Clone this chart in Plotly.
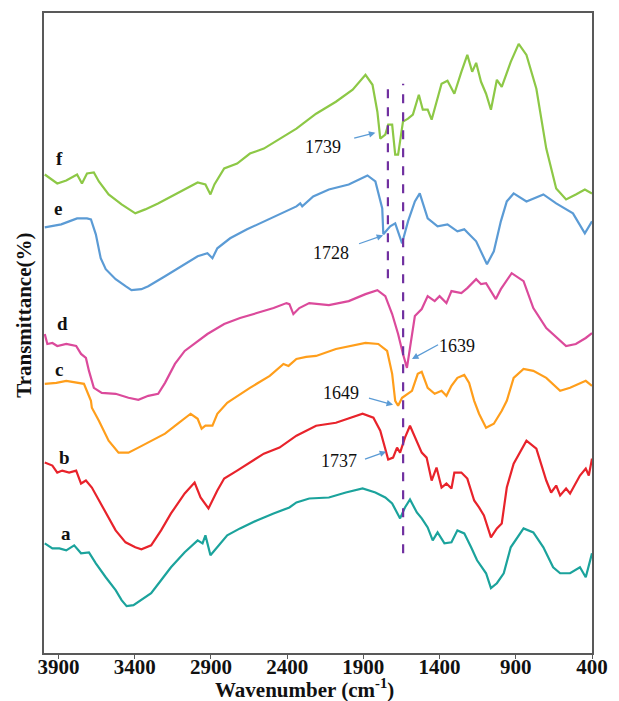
import plotly.graph_objects as go

# FTIR spectra of samples a–f, vertically offset (transmittance, arbitrary units)
wn_f = [3990, 3908, 3849, 3778, 3746, 3713, 3668, 3635, 3571, 3486, 3396, 3331, 3247, 3162, 3072,
        2987, 2936, 2903, 2877, 2813, 2728, 2644, 2553, 2450, 2339, 2210, 2080, 1970, 1886, 1840,
        1808, 1789, 1756, 1737, 1711, 1691, 1672, 1640, 1607, 1575, 1536, 1510, 1478, 1452, 1432,
        1387, 1348, 1303, 1257, 1218, 1186, 1160, 1128, 1095, 1063, 1024, 992, 933, 881, 830, 765,
        700, 635, 570, 506, 447, 400]
t_f = [480, 471, 474, 480, 471, 481, 482, 473, 460, 450, 441, 445, 451, 458, 465,
       472, 470, 460, 470, 486, 491, 501, 506, 516, 526, 541, 553, 565, 580, 570,
       543, 516, 520, 530, 530, 500, 500, 533, 536, 540, 560, 545, 545, 535, 546,
       571, 574, 561, 583, 600, 583, 592, 573, 561, 545, 575, 568, 593, 611, 600, 566,
       506, 466, 455, 460, 465, 461]

wn_e = [3990, 3927, 3882, 3830, 3778, 3713, 3687, 3655, 3623, 3590, 3525, 3460, 3421, 3356, 3311,
        3201, 3098, 2987, 2923, 2890, 2858, 2774, 2663, 2553, 2450, 2339, 2314, 2301, 2229, 2126,
        1996, 1873, 1821, 1776, 1769, 1724, 1691, 1646, 1607, 1562, 1530, 1478, 1413, 1348, 1283,
        1238, 1206, 1160, 1089, 1044, 998, 959, 914, 830, 719, 635, 525, 447, 400]
t_e = [427, 429, 430, 433, 436, 436, 435, 420, 396, 385, 375, 368, 364, 365, 368,
       378, 388, 398, 401, 396, 406, 416, 425, 433, 440, 448, 451, 448, 458, 465,
       470, 479, 473, 446, 420, 428, 431, 411, 433, 453, 461, 436, 428, 430, 423,
       425, 420, 413, 390, 403, 433, 453, 461, 453, 460, 451, 441, 421, 433]

wn_d = [3990, 3973, 3940, 3908, 3849, 3784, 3752, 3720, 3700, 3668, 3616, 3525, 3441, 3376, 3311,
        3246, 3201, 3136, 3072, 2987, 2923, 2813, 2709, 2599, 2489, 2404, 2385, 2359, 2320, 2255,
        2126, 1996, 1886, 1808, 1756, 1711, 1672, 1640, 1614, 1594, 1562, 1517, 1478, 1432, 1400,
        1355, 1322, 1257, 1218, 1160, 1128, 1095, 1063, 1031, 998, 927, 849, 785, 700, 609, 570,
        506, 441, 400]
t_d = [320, 310, 311, 308, 310, 308, 300, 296, 283, 266, 261, 260, 256, 254, 258,
       260, 271, 290, 303, 313, 320, 330, 336, 341, 346, 351, 350, 340, 346, 351,
       349, 353, 360, 364, 358, 340, 320, 300, 286, 306, 338, 345, 358, 353, 358,
       351, 363, 361, 366, 375, 370, 371, 363, 355, 365, 381, 373, 346, 326, 313, 308,
       310, 316, 321]

wn_c = [3990, 3914, 3849, 3765, 3733, 3687, 3681, 3635, 3571, 3506, 3441, 3376, 3292, 3201, 3117,
        3033, 2987, 2961, 2936, 2890, 2858, 2793, 2774, 2644, 2514, 2424, 2391, 2339, 2275, 2210,
        2080, 1886, 1802, 1744, 1711, 1691, 1672, 1646, 1581, 1543, 1517, 1478, 1432, 1387, 1355,
        1322, 1283, 1238, 1206, 1173, 1141, 1095, 1044, 992, 959, 914, 849, 785, 700, 609, 544,
        479, 441, 400]
t_c = [270, 271, 273, 271, 270, 253, 246, 233, 213, 201, 201, 206, 213, 220, 230,
       240, 235, 225, 228, 228, 240, 251, 253, 266, 278, 290, 288, 295, 297, 298,
       305, 311, 310, 303, 280, 253, 248, 256, 263, 280, 282, 266, 260, 263, 258,
       268, 276, 279, 271, 253, 240, 226, 230, 243, 253, 276, 285, 283, 276, 263, 266,
       270, 273, 268]

wn_b = [3990, 3940, 3908, 3875, 3830, 3784, 3752, 3720, 3681, 3635, 3590, 3525, 3460, 3396, 3356,
        3292, 3227, 3162, 3072, 3007, 2968, 2916, 2858, 2813, 2728, 2644, 2553, 2450, 2339, 2210,
        2080, 1905, 1834, 1789, 1756, 1737, 1705, 1679, 1659, 1627, 1594, 1562, 1517, 1485, 1452,
        1420, 1387, 1355, 1322, 1303, 1257, 1218, 1173, 1141, 1109, 1063, 1024, 992, 959, 914,
        830, 765, 700, 668, 635, 609, 570, 544, 479, 441, 421, 400]
t_b = [191, 188, 181, 183, 181, 183, 170, 173, 166, 153, 140, 123, 111, 106, 104,
       108, 123, 140, 160, 171, 156, 145, 163, 175, 183, 191, 200, 206, 218, 228,
       231, 240, 236, 223, 205, 194, 196, 206, 201, 216, 228, 216, 201, 196, 173,
       186, 166, 170, 165, 181, 181, 175, 153, 146, 138, 116, 125, 130, 166, 190,
       213, 205, 173, 161, 168, 158, 165, 160, 178, 185, 178, 195]

wn_a = [3990, 3940, 3894, 3849, 3797, 3752, 3700, 3655, 3590, 3525, 3486, 3453, 3408, 3356, 3292,
        3227, 3162, 3072, 2987, 2955, 2936, 2903, 2858, 2793, 2709, 2599, 2489, 2385, 2339, 2255,
        2126, 2015, 1905, 1821, 1756, 1711, 1659, 1627, 1594, 1549, 1517, 1478, 1445, 1413, 1368,
        1322, 1283, 1238, 1193, 1154, 1095, 1063, 1024, 979, 933, 849, 785, 719, 655, 609, 544,
        479, 441, 400]
t_a = [110, 105, 105, 103, 108, 100, 101, 90, 76, 63, 53, 47, 48, 53, 60,
       73, 86, 101, 113, 110, 118, 98, 106, 118, 125, 133, 140, 146, 151, 155,
       156, 161, 165, 161, 156, 150, 135, 146, 154, 141, 135, 126, 113, 121, 110,
       111, 123, 120, 106, 93, 80, 65, 70, 80, 106, 125, 121, 106, 86, 80, 80,
       86, 76, 100]

series = [
    ("a", wn_a, t_a, "#1BA39C"),
    ("b", wn_b, t_b, "#E8232B"),
    ("c", wn_c, t_c, "#FF9E1B"),
    ("d", wn_d, t_d, "#DB4A9B"),
    ("e", wn_e, t_e, "#5B9BD5"),
    ("f", wn_f, t_f, "#8DC846"),
]

# curve letters placed beside the left end of each trace
letter_wn = [3849, 3862, 3894, 3875, 3901, 3894]
letter_t = [120, 196, 284, 331, 446, 496]

# dashed guide lines at the carbonyl bands
guide_wn = [1739, 1639]
guide_top = [568, 571]
guide_bottom = [376, 100]

# band labels: text, label position, arrow tail, arrow tip
band_text = ["1739", "1728", "1639", "1649", "1737"]
band_label_wn = [2164, 2113, 1283, 2048, 2061]
band_label_t = [508, 401, 308, 261, 193]
band_tail_wn = [1970, 1938, 1400, 1873, 1899]
band_tail_t = [516, 410, 310, 256, 194]
band_tip_wn = [1821, 1770, 1581, 1705, 1750]
band_tip_t = [522, 419, 295, 249, 202]

x_ticks = [3900, 3400, 2900, 2400, 1900, 1400, 900, 400]

SERIF = "Liberation Serif"

fig = go.Figure()
for name, wn, t, color in series:
    fig.add_trace(go.Scatter(x=wn, y=t, mode="lines", name=name,
                             line=dict(color=color, width=2.2), showlegend=False))

for gx, top, bot in zip(guide_wn, guide_top, guide_bottom):
    fig.add_shape(type="line", x0=gx, x1=gx, y0=bot, y1=top, xref="x", yref="y",
                  line=dict(color="#7030A0", width=2.2, dash="dash"))

annotations = []
for (name, _, _, _), lx, ly in zip(series, letter_wn, letter_t):
    annotations.append(dict(x=lx, y=ly, xref="x", yref="y", text=name, showarrow=False,
                            font=dict(family=SERIF, size=19, color="#111111", weight="bold")))

for txt, lx, ly, ax_, ay_, tx, ty in zip(band_text, band_label_wn, band_label_t,
                                          band_tail_wn, band_tail_t, band_tip_wn, band_tip_t):
    annotations.append(dict(x=lx, y=ly, xref="x", yref="y", text=txt, showarrow=False,
                            font=dict(family=SERIF, size=18, color="#111111")))
    annotations.append(dict(x=tx, y=ty, xref="x", yref="y", ax=ax_, ay=ay_, axref="x", ayref="y",
                            text="", showarrow=True, arrowhead=2, arrowsize=1, arrowwidth=1.3,
                            arrowcolor="#5B9BD5", standoff=0, startstandoff=0))

annotations.append(dict(x=2288, y=-0.056, xref="x", yref="paper", yanchor="middle",
                        text="Wavenumber (cm<sup>-1</sup>)", showarrow=False,
                        font=dict(family=SERIF, size=21, color="#111111", weight="bold")))
annotations.append(dict(x=-0.037, y=0.528, xref="paper", yref="paper", xanchor="center",
                        yanchor="middle", textangle=-90, text="Transmittance(%)", showarrow=False,
                        font=dict(family=SERIF, size=21, color="#111111", weight="bold")))

fig.update_layout(
    width=619, height=701,
    margin=dict(l=44, r=20, t=11, b=48),
    paper_bgcolor="white", plot_bgcolor="white",
    annotations=annotations,
    xaxis=dict(range=[3995, 400], tickvals=x_ticks, ticks="outside", ticklen=4,
               ticklabelstandoff=-10,
               tickcolor="#595959", showline=True, linecolor="#595959", linewidth=2,
               mirror=True, showgrid=False, zeroline=False,
               tickfont=dict(family=SERIF, size=21, color="#111111", weight="bold")),
    yaxis=dict(range=[0, 642], showticklabels=False, ticks="", showline=True,
               linecolor="#595959", linewidth=2, mirror=True, showgrid=False, zeroline=False),
)

fig.write_html("out.html")
